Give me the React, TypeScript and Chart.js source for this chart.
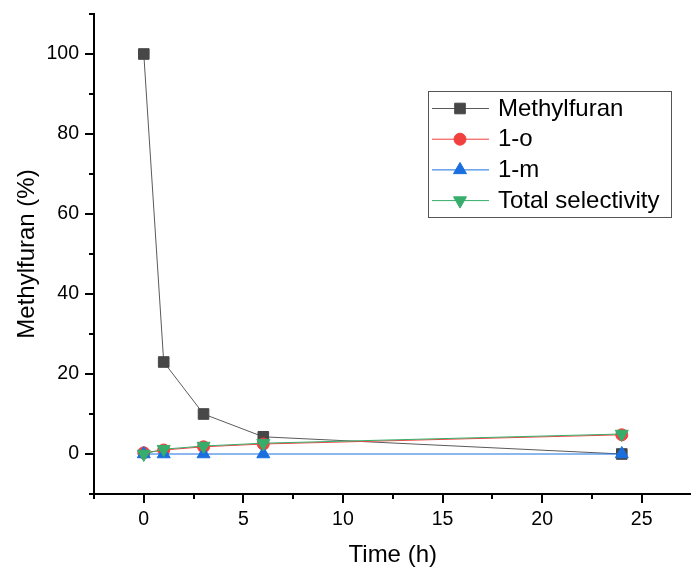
import React, { useEffect, useRef } from 'react';
import { Chart, registerables } from 'chart.js';
import { drawPoint } from 'chart.js/helpers';

Chart.register(...registerables);

const timeH = [0, 1, 3, 6, 24];
const methylfuran = [100, 23, 10, 4.3, 0];
const oneO = [0.3, 1, 1.8, 2.5, 4.8];
const oneM = [0, 0, 0, 0, 0];
const totalSelectivity = [0, 1.2, 2, 2.7, 5];
const seriesLabels = ['Methylfuran', '1-o', '1-m', 'Total selectivity'];
const xMajorTicks = [0, 5, 10, 15, 20, 25];
const xMinorTicks = [-2.5, 2.5, 7.5, 12.5, 17.5, 22.5, 27.5];
const yMajorTicks = [0, 20, 40, 60, 80, 100];
const yMinorTicks = [-10, 10, 30, 50, 70, 90, 110];
const xTitle = 'Time (h)';
const yTitle = 'Methylfuran (%)';

const FONT = "'Liberation Sans', Arial, sans-serif";

const toPoints = (ys: number[]) => timeH.map((x, i) => ({ x, y: ys[i] }));

const tickPlugin = {
  id: 'originTicks',
  afterDraw(chart: any) {
    const ctx = chart.ctx;
    const xs = chart.scales.x;
    const ys = chart.scales.y;
    const area = chart.chartArea;
    ctx.save();
    ctx.strokeStyle = '#000';
    ctx.lineWidth = 2;
    const seg = (x1: number, y1: number, x2: number, y2: number) => {
      ctx.beginPath();
      ctx.moveTo(x1, y1);
      ctx.lineTo(x2, y2);
      ctx.stroke();
    };
    xMajorTicks.forEach((v) => {
      const p = Math.round(xs.getPixelForValue(v));
      seg(p, area.bottom, p, area.bottom + 9);
    });
    xMinorTicks.forEach((v) => {
      const p = Math.round(xs.getPixelForValue(v));
      seg(p, area.bottom, p, area.bottom + 5);
    });
    yMajorTicks.forEach((v) => {
      const p = Math.round(ys.getPixelForValue(v));
      seg(area.left, p, area.left - 9, p);
    });
    yMinorTicks.forEach((v) => {
      const p = Math.round(ys.getPixelForValue(v));
      seg(area.left, p, area.left - 5, p);
    });
    ctx.restore();
  },
};

const legendPlugin = {
  id: 'boxLegend',
  afterDraw(chart: any) {
    const ctx = chart.ctx;
    const bx = 428.5, by = 91.5, bw = 243, bh = 126;
    ctx.save();
    ctx.fillStyle = '#fff';
    ctx.fillRect(bx, by, bw, bh);
    ctx.strokeStyle = '#555';
    ctx.lineWidth = 1;
    ctx.strokeRect(bx, by, bw, bh);
    [0, 1, 2, 3].forEach((i, row) => {
      const ds = chart.data.datasets[i];
      const cy = 108.5 + row * 30.7;
      ctx.strokeStyle = ds.borderColor;
      ctx.lineWidth = 1;
      ctx.beginPath();
      ctx.moveTo(432, cy);
      ctx.lineTo(489, cy);
      ctx.stroke();
      ctx.fillStyle = ds.pointBackgroundColor;
      ctx.strokeStyle = ds.pointBorderColor;
      drawPoint(ctx, {
        pointStyle: ds.pointStyle,
        radius: ds.pointRadius,
        rotation: ds.pointRotation || 0,
        borderWidth: 1,
      } as any, 460, cy);
      ctx.fillStyle = '#000';
      ctx.font = `24px ${FONT}`;
      ctx.textBaseline = 'middle';
      ctx.textAlign = 'left';
      ctx.fillText(ds.label, 498, cy + 0.5);
    });
    ctx.restore();
  },
};

const zeroPad = (s: any) => {
  s.paddingTop = 0;
  s.paddingBottom = 0;
  s.paddingLeft = 0;
  s.paddingRight = 0;
};

export default function App() {
  const ref = useRef<HTMLCanvasElement>(null);

  useEffect(() => {
    if (!ref.current) return;
    const mk = (
      label: string,
      data: number[],
      color: string,
      lineColor: string,
      style: string,
      radius: number,
      rotation: number,
      order: number
    ) => ({
      label,
      data: toPoints(data),
      borderColor: lineColor,
      borderWidth: 1,
      backgroundColor: color,
      pointBackgroundColor: color,
      pointBorderColor: color,
      pointBorderWidth: 1,
      pointStyle: style,
      pointRadius: radius,
      pointRotation: rotation,
      pointHoverRadius: radius,
      tension: 0,
      fill: false,
      order,
    });

    const chart = new Chart(ref.current, {
      type: 'line',
      data: {
        datasets: [
          mk(seriesLabels[0], methylfuran, '#474747', '#5a5a5a', 'rect', 7.5, 0, 4),
          mk(seriesLabels[1], oneO, '#F14040', '#F14040', 'circle', 6, 0, 3),
          mk(seriesLabels[2], oneM, '#1A6FDF', '#1A6FDF', 'triangle', 7.5, 0, 2),
          mk(seriesLabels[3], totalSelectivity, '#37AD6B', '#37AD6B', 'triangle', 7.5, 180, 1),
        ] as any,
      },
      options: {
        responsive: false,
        animation: false,
        layout: { padding: { top: 14, right: 3, left: 1, bottom: 0 } },
        plugins: {
          legend: { display: false },
          tooltip: { enabled: false },
        },
        scales: {
          x: {
            type: 'linear',
            min: -2.5,
            max: 27.5,
            afterBuildTicks: (s: any) => {
              s.ticks = xMajorTicks.map((v) => ({ value: v }));
            },
            afterFit: (s: any) => {
              s.height = 78;
              zeroPad(s);
            },
            grid: { display: false, drawTicks: false },
            border: { display: true, color: '#000', width: 2 },
            ticks: {
              color: '#000',
              font: { family: FONT, size: 19.5 },
              padding: 14,
              maxRotation: 0,
              autoSkip: false,
            },
            title: {
              display: true,
              text: xTitle,
              color: '#000',
              font: { family: FONT, size: 24 },
              padding: { top: 0, bottom: 2 },
            },
          },
          y: {
            type: 'linear',
            min: -10,
            max: 110,
            afterBuildTicks: (s: any) => {
              s.ticks = yMajorTicks.map((v) => ({ value: v }));
            },
            afterFit: (s: any) => {
              s.width = 93;
              zeroPad(s);
            },
            grid: { display: false, drawTicks: false },
            border: { display: true, color: '#000', width: 2 },
            ticks: {
              color: '#000',
              font: { family: FONT, size: 19.5 },
              padding: 15,
              autoSkip: false,
            },
            title: {
              display: true,
              text: yTitle,
              color: '#000',
              font: { family: FONT, size: 24 },
              padding: { top: 12, bottom: 0 },
            },
          },
        },
      },
      plugins: [tickPlugin, legendPlugin],
    } as any);
    return () => chart.destroy();
  }, []);

  return (
    <div
      style={{
        position: 'absolute',
        left: 0,
        top: 0,
        width: 691,
        height: 572,
        overflow: 'hidden',
        background: '#fff',
      }}
    >
      <canvas ref={ref} width={700} height={572} style={{ display: 'block' }} />
    </div>
  );
}
